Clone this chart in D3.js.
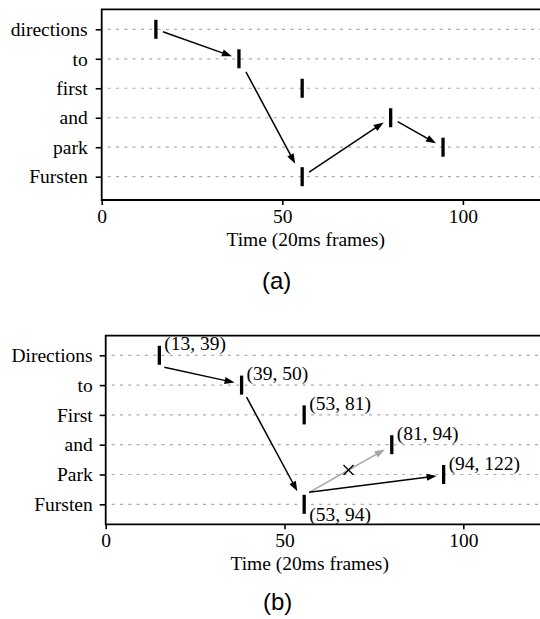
<!DOCTYPE html>
<html>
<head>
<meta charset="utf-8">
<script src="https://cdn.jsdelivr.net/npm/d3@7"></script>
<style>
  html, body { margin: 0; padding: 0; background: #fff; }
  svg { display: block; }
</style>
</head>
<body>
<div id="chart"></div>
<script>
// words on the y axis, one per row, top to bottom
const wordsA = ["directions", "to", "first", "and", "park", "Fursten"];
const wordsB = ["Directions", "to", "First", "and", "Park", "Fursten"];
// frame where each word's marker sits
const frames = [15, 38, 55.5, 80, 94.5, 55.5];
// (start, end) frame pairs printed next to the markers in (b)
const spanStart = [13, 39, 53, 81, 94, 53];
const spanEnd = [39, 50, 81, 94, 122, 94];
const xTicks = [0, 50, 100];
const xMax = 122;
// transitions: [from word index, to word index]
const pathA = [[0, 1], [1, 5], [5, 3], [3, 4]];
const pathB = [[0, 1], [1, 5], [5, 4]];
const rejectedB = [[5, 3]];

const W = 540, H = 619;
const serif = "'Liberation Serif', 'DejaVu Serif', serif";
const sans = "'Liberation Sans', Arial, sans-serif";

const svg = d3.select("#chart").append("svg")
    .attr("width", W)
    .attr("height", H);

svg.append("rect").attr("width", W).attr("height", H).attr("fill", "#fff");

// box clip so arrows stop short of the markers
function clip(dx, dy, hw, hh) {
    const s = Math.min(hw / Math.abs(dx || 1e-9), hh / Math.abs(dy || 1e-9));
    return [dx * s, dy * s];
}

function arrow(g, p, q, color, corner) {
    const dx = q.x - p.x, dy = q.y - p.y;
    let s;
    if (corner) s = [p.x + 5, p.y + Math.sign(dy) * 12];
    else { const c = clip(dx, dy, 7, 13); s = [p.x + c[0], p.y + c[1]]; }
    const c2 = clip(dx, dy, 7, 13);
    const e = [q.x - c2[0], q.y - c2[1]];
    const a = Math.atan2(e[1] - s[1], e[0] - s[0]);
    const ca = Math.cos(a), sa = Math.sin(a);
    const len = 10, hw = 3.6;
    g.append("line")
        .attr("x1", s[0]).attr("y1", s[1])
        .attr("x2", e[0] - ca * (len - 2)).attr("y2", e[1] - sa * (len - 2))
        .attr("stroke", color)
        .attr("stroke-width", 1.5);
    const bx = e[0] - ca * len, by = e[1] - sa * len;
    g.append("path")
        .attr("d", `M${e[0]},${e[1]}L${bx - sa * hw},${by + ca * hw}L${bx + sa * hw},${by - ca * hw}Z`)
        .attr("fill", color);
    return { s, e };
}

function drawPanel(cfg) {
    const g = svg.append("g");
    const x = d3.scaleLinear().domain([0, xMax]).range([cfg.x0, cfg.x0 + xMax * cfg.unit]);
    const y = d3.scalePoint().domain(cfg.words).range([cfg.rowTop, cfg.rowBottom]);

    // dotted row guides
    g.append("g").selectAll("line")
        .data(cfg.words)
        .join("line")
        .attr("x1", cfg.x0 + 6)
        .attr("x2", W + 10)
        .attr("y1", d => y(d))
        .attr("y2", d => y(d))
        .attr("stroke", "#aaa")
        .attr("stroke-width", 1.2)
        .attr("stroke-dasharray", "3,5.3");

    // y axis
    const ya = g.append("g")
        .attr("transform", `translate(${cfg.x0},0)`)
        .call(d3.axisLeft(y).tickSize(6).tickPadding(cfg.yPad));
    ya.select(".domain").remove();
    ya.selectAll(".tick line").attr("stroke", "#000").attr("stroke-width", 1.6);
    ya.selectAll(".tick text").attr("font-family", serif).attr("font-size", 19.5).attr("fill", "#000");

    // x axis
    const xa = g.append("g")
        .attr("transform", `translate(0,${cfg.bottom})`)
        .call(d3.axisBottom(x).tickValues(xTicks).tickSize(5).tickPadding(4));
    xa.select(".domain").remove();
    xa.selectAll(".tick line").attr("stroke", "#000").attr("stroke-width", 1.6);
    xa.selectAll(".tick text").attr("font-family", serif).attr("font-size", 19.5).attr("fill", "#000");

    // frame (right side falls outside the picture)
    g.append("path")
        .attr("d", `M${W + 10},${cfg.top}H${cfg.x0}V${cfg.bottom}H${W + 10}`)
        .attr("fill", "none")
        .attr("stroke", "#000")
        .attr("stroke-width", 1.8);

    const pts = frames.map((f, i) => ({ x: x(f), y: y(cfg.words[i]) }));

    // arrows
    const ag = g.append("g");
    cfg.rejected.forEach(([i, j]) => {
        const r = arrow(ag, pts[i], pts[j], "#a6a6a6", cfg.corner);
        const t = 0.52;
        const cx = r.s[0] + (r.e[0] - r.s[0]) * t, cy = r.s[1] + (r.e[1] - r.s[1]) * t;
        ag.append("path")
            .attr("d", `M${cx - 5},${cy - 5}L${cx + 5},${cy + 5}M${cx - 5},${cy + 5}L${cx + 5},${cy - 5}`)
            .attr("stroke", "#000")
            .attr("stroke-width", 1.3);
    });
    cfg.path.forEach(([i, j]) => arrow(ag, pts[i], pts[j], "#000", cfg.corner));

    // word markers
    g.append("g").selectAll("line")
        .data(pts)
        .join("line")
        .attr("x1", d => d.x).attr("x2", d => d.x)
        .attr("y1", d => d.y - 9.5).attr("y2", d => d.y + 9.5)
        .attr("stroke", "#000")
        .attr("stroke-width", 3.3);

    if (cfg.spans) {
        const last = cfg.words.length - 1;
        g.append("g").selectAll("text")
            .data(pts)
            .join("text")
            .attr("x", d => d.x + 5)
            .attr("y", (d, i) => i === last ? d.y + 17 : d.y - 5)
            .attr("font-family", serif)
            .attr("font-size", 19.5)
            .text((d, i) => `(${spanStart[i]}, ${spanEnd[i]})`);
    }

    g.append("text")
        .attr("x", cfg.x0 + 204)
        .attr("y", cfg.bottom + 46)
        .attr("text-anchor", "middle")
        .attr("font-family", serif)
        .attr("font-size", 19.5)
        .text("Time (20ms frames)");

    g.append("text")
        .attr("x", cfg.x0 + cfg.capDx)
        .attr("y", cfg.capY)
        .attr("text-anchor", "middle")
        .attr("font-family", sans)
        .attr("font-size", 24)
        .text(cfg.caption);
}

drawPanel({
    words: wordsA, x0: 101.7, unit: 3.612, top: 9.3, bottom: 200,
    rowTop: 29.3, rowBottom: 176.7, yPad: 8,
    path: pathA, rejected: [], corner: false, spans: false,
    caption: "(a)", capDx: 175, capY: 289
});

drawPanel({
    words: wordsB, x0: 105.7, unit: 3.576, top: 335.7, bottom: 524.3,
    rowTop: 355.3, rowBottom: 504.3, yPad: 7,
    path: pathB, rejected: rejectedB, corner: true, spans: true,
    caption: "(b)", capDx: 172, capY: 610
});
</script>
</body>
</html>
